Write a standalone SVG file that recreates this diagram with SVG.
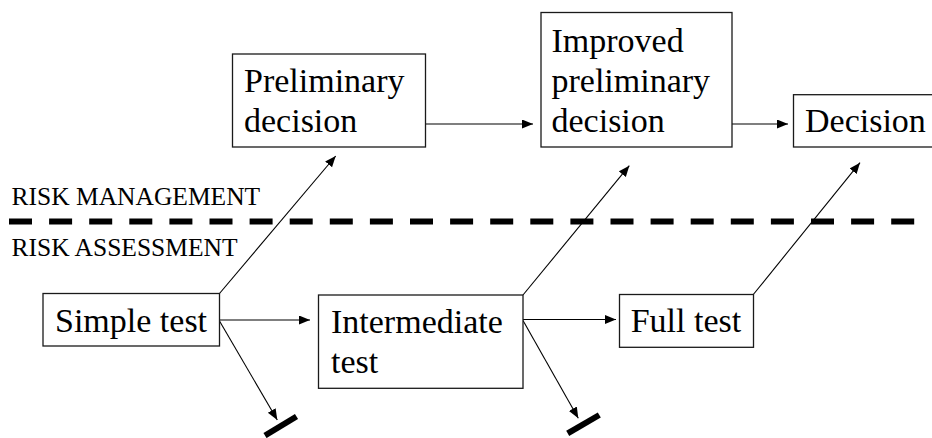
<svg xmlns="http://www.w3.org/2000/svg" width="932" height="438" viewBox="0 0 932 438">
<style>
.box{fill:#fff;stroke:#1a1a1a;stroke-width:1.3}
.lbl{font-family:'Liberation Serif','DejaVu Serif',serif;font-size:34px;fill:#000}
.zone{font-family:'Liberation Serif','DejaVu Serif',serif;font-size:25.5px;fill:#000}
.con{stroke:#000;stroke-width:1.1;fill:none}
.stop{stroke:#000;stroke-width:6;fill:none}
</style>
<defs>
<marker id="ah" markerUnits="userSpaceOnUse" markerWidth="12" markerHeight="10" refX="11" refY="4.5" orient="auto">
<path d="M0,0 L11,4.5 L0,9 z" fill="#000"/>
</marker>
</defs>
<rect width="932" height="438" fill="#fff"/>
<g id="divider">
<line x1="9" y1="221.5" x2="916" y2="221.5" stroke="#000" stroke-width="6" stroke-dasharray="23 17.1"/>
<text class="zone" x="11.5" y="205">RISK MANAGEMENT</text>
<text class="zone" x="11.5" y="256">RISK ASSESSMENT</text>
</g>
<g id="connectors">
<line class="con" x1="426" y1="124" x2="533" y2="124" marker-end="url(#ah)"/>
<line class="con" x1="732" y1="124" x2="788" y2="124" marker-end="url(#ah)"/>
<line class="con" x1="219.5" y1="293.5" x2="335.7" y2="156" marker-end="url(#ah)"/>
<line class="con" x1="523" y1="295" x2="629.3" y2="165.7" marker-end="url(#ah)"/>
<line class="con" x1="753.3" y1="294.5" x2="860" y2="162.7" marker-end="url(#ah)"/>
<line class="con" x1="219.5" y1="320" x2="310" y2="320" marker-end="url(#ah)"/>
<line class="con" x1="523" y1="319.5" x2="616" y2="319.5" marker-end="url(#ah)"/>
<line class="con" x1="219.5" y1="321" x2="277.3" y2="420" marker-end="url(#ah)"/>
<line class="con" x1="523" y1="320.5" x2="578.3" y2="418.3" marker-end="url(#ah)"/>
<line class="stop" x1="265" y1="435.5" x2="296.5" y2="416.5"/>
<line class="stop" x1="567.7" y1="433.3" x2="599.3" y2="415"/>
</g>
<g id="preliminary">
<rect class="box" x="232.5" y="54" width="193" height="93"/>
<text class="lbl" x="244" y="92.3">Preliminary</text>
<text class="lbl" x="244" y="132.3">decision</text>
</g>
<g id="improved">
<rect class="box" x="541" y="12.5" width="191" height="134.5"/>
<text class="lbl" x="551.5" y="51.5">Improved</text>
<text class="lbl" x="551.5" y="91.5">preliminary</text>
<text class="lbl" x="551.5" y="131.7">decision</text>
</g>
<g id="decision">
<rect class="box" x="793.5" y="94.7" width="150" height="52.3"/>
<text class="lbl" x="805" y="131.7">Decision</text>
</g>
<g id="simple">
<rect class="box" x="43" y="293.5" width="176.5" height="52.5"/>
<text class="lbl" x="55" y="331.5">Simple test</text>
</g>
<g id="intermediate">
<rect class="box" x="318.5" y="295" width="204.5" height="93.3"/>
<text class="lbl" x="331" y="332.8">Intermediate</text>
<text class="lbl" x="331" y="373.3">test</text>
</g>
<g id="full">
<rect class="box" x="619.5" y="294.5" width="134" height="52.8"/>
<text class="lbl" x="630.7" y="331.7">Full test</text>
</g>
</svg>
